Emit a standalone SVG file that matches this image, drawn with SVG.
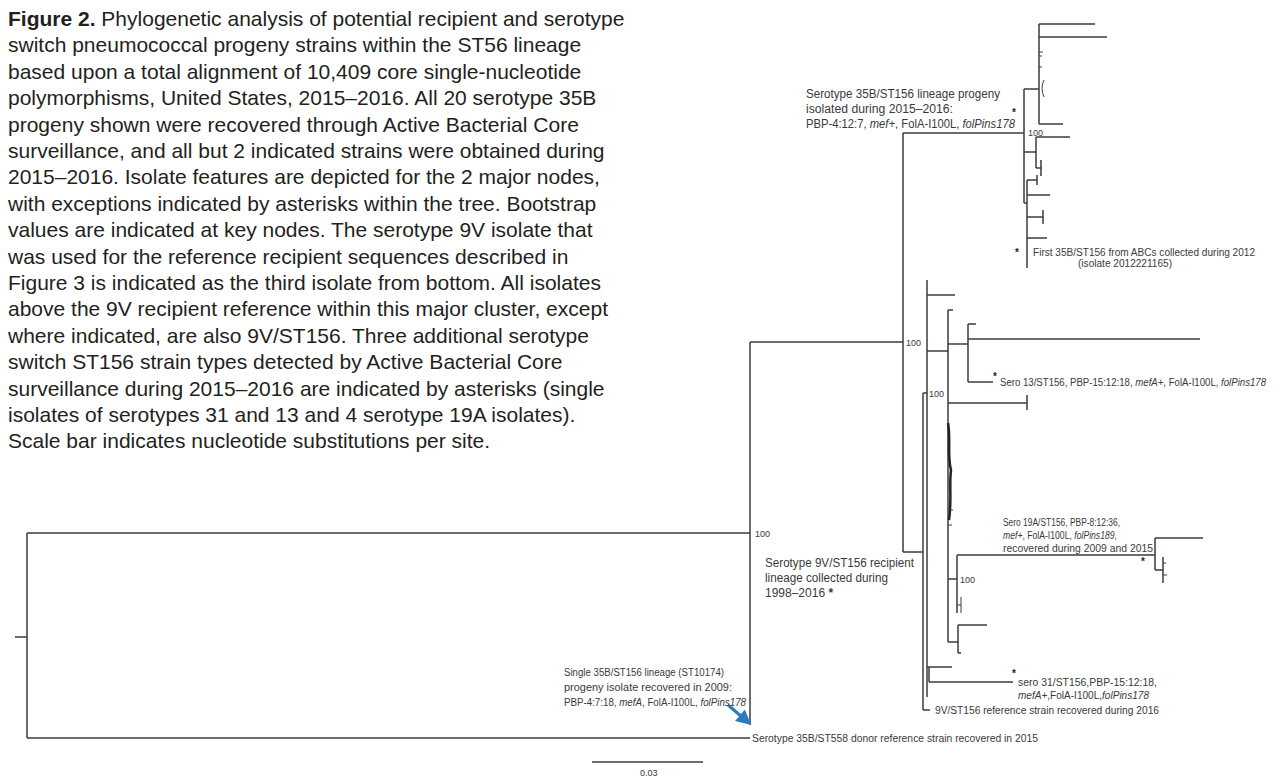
<svg xmlns="http://www.w3.org/2000/svg" width="1282" height="778" viewBox="0 0 1282 778">
<style>
.cap{font-family:"Liberation Sans",Arial,sans-serif;font-size:21px;fill:#231f20}
.lb{font-family:"Liberation Sans",Arial,sans-serif;font-size:10px;fill:#3a3a3a}
.lbb{font-family:"Liberation Sans",Arial,sans-serif;font-size:12px;fill:#3a3a3a}
.bs{font-family:"Liberation Sans",Arial,sans-serif;font-size:9px;fill:#3a3a3a}
.ast{font-family:"Liberation Sans",Arial,sans-serif;font-size:10px;font-weight:bold;fill:#222}
.it{font-style:italic}
.br{fill:none;stroke:#3c3c3c;stroke-width:1.5}
.thin{fill:none;stroke:#3c3c3c;stroke-width:1}
</style>
<defs>
<marker id="ah" viewBox="0 0 10 10" refX="8" refY="5" markerWidth="5" markerHeight="5" orient="auto">
<path d="M0,0 L10,5 L0,10 z" fill="#2b7bbf"/>
</marker>
</defs>
<rect width="1282" height="778" fill="#ffffff"/>
<g id="caption">
<text class="cap" x="8" y="26"><tspan font-weight="bold">Figure 2.</tspan> Phylogenetic analysis of potential recipient and serotype</text>
<text class="cap" x="8" y="52.4">switch pneumococcal progeny strains within the ST56 lineage</text>
<text class="cap" x="8" y="78.8">based upon a total alignment of 10,409 core single-nucleotide</text>
<text class="cap" x="8" y="105.2">polymorphisms, United States, 2015–2016. All 20 serotype 35B</text>
<text class="cap" x="8" y="131.6">progeny shown were recovered through Active Bacterial Core</text>
<text class="cap" x="8" y="158">surveillance, and all but 2 indicated strains were obtained during</text>
<text class="cap" x="8" y="184.4">2015–2016. Isolate features are depicted for the 2 major nodes,</text>
<text class="cap" x="8" y="210.8">with exceptions indicated by asterisks within the tree. Bootstrap</text>
<text class="cap" x="8" y="237.2">values are indicated at key nodes. The serotype 9V isolate that</text>
<text class="cap" x="8" y="263.6">was used for the reference recipient sequences described in</text>
<text class="cap" x="8" y="290">Figure 3 is indicated as the third isolate from bottom. All isolates</text>
<text class="cap" x="8" y="316.4">above the 9V recipient reference within this major cluster, except</text>
<text class="cap" x="8" y="342.8">where indicated, are also 9V/ST156. Three additional serotype</text>
<text class="cap" x="8" y="369.2">switch ST156 strain types detected by Active Bacterial Core</text>
<text class="cap" x="8" y="395.6">surveillance during 2015–2016 are indicated by asterisks (single</text>
<text class="cap" x="8" y="422">isolates of serotypes 31 and 13 and 4 serotype 19A isolates).</text>
<text class="cap" x="8" y="448.4">Scale bar indicates nucleotide substitutions per site.</text>
</g>
<g id="connectors">
<path class="br" d="M15,637 H27 M27,533 V738 M27,533 H750 M27,738 H750"/>
<path class="br" d="M750,342 V725 M750,342 H903 M903,133 V552 M903,133 H1024 M903,552 H923"/>
<path class="br" d="M1024,89 V203 M1024,89 H1039 M1039,24 V124 M1039,24 H1095 M1039,37 H1107 M1039,124 H1063"/>
<path class="thin" d="M1039,52 H1043 M1039,56 H1042 M1039,67 H1042 M1044,80 Q1040,88 1044,97"/>
<path class="br" d="M1024,152 H1036 M1036,137 V168 M1036,137 H1070 M1036,168 H1041 M1041,160 V176"/>
<path class="br" d="M1024,203 H1027 M1027,180 V268 M1027,180 H1037 M1037,175 V185 M1027,195 H1050 M1027,217 H1043 M1043,210 V224 M1027,238 H1047"/>
<path class="br" d="M923,393 V710 M923,710 H930 M923,393 H927 M927,280 V697"/>
<path class="br" d="M927,295 H955 M927,351 H948 M948,310 V642 M948,310 H953 M948,344 H968 M968,324 V382 M968,324 H976 M968,339 H1200 M968,382 H993"/>
<path class="br" d="M948,403 H1027 M1027,395 V410"/>
<path d="M948,423 C951,440 947,455 951,470 C949,485 952,500 949,520" fill="none" stroke="#222" stroke-width="2.5"/>
<path class="thin" d="M948,510 H953 M948,525 H952 M948,480 H951"/>
<path class="br" d="M948,579 H957 M957,555 V613 M957,555 H1155 M1155,538 V570 M1155,538 H1203 M1155,570 H1163 M1163,557 V583"/>
<path class="thin" d="M1163,563 H1166 M1163,575 H1167 M957,605 H961 M961,597 V613"/>
<path class="br" d="M948,642 H958 M958,625 V653 M958,625 H987 M958,653 H961"/>
<path class="br" d="M927,667 H929 M929,667 V682 M929,667 H952 M929,682 H1013"/>
<line x1="728" y1="705" x2="749" y2="723" stroke="#2b7bbf" stroke-width="3" marker-end="url(#ah)"/>
<path class="br" d="M592,762 H703"/>
</g>
<g id="label-35b-progeny">
<text class="lbb" x="806" y="98" textLength="194" lengthAdjust="spacingAndGlyphs">Serotype 35B/ST156 lineage progeny</text>
<text class="lbb" x="806" y="113" textLength="147" lengthAdjust="spacingAndGlyphs">isolated during 2015–2016:</text>
<text class="lbb" x="806" y="128" textLength="209" lengthAdjust="spacingAndGlyphs">PBP-4:12:7, <tspan class="it">mef+</tspan>, FolA-I100L, <tspan class="it">folPins178</tspan></text>
<text class="ast" x="1012" y="116">*</text>
</g>
<g id="label-first35b">
<text class="ast" x="1015" y="256">*</text>
<text class="lb" x="1033" y="256" textLength="222" lengthAdjust="spacingAndGlyphs">First 35B/ST156 from ABCs collected during 2012</text>
<text class="lb" x="1078" y="267" textLength="94" lengthAdjust="spacingAndGlyphs">(isolate 2012221165)</text>
</g>
<g id="label-sero13">
<text class="ast" x="993" y="380">*</text>
<text class="lb" x="1000" y="386" textLength="266" lengthAdjust="spacingAndGlyphs">Sero 13/ST156, PBP-15:12:18, <tspan class="it">mefA+</tspan>, FolA-I100L, <tspan class="it">folPins178</tspan></text>
</g>
<g id="label-sero19a">
<text class="lb" x="1003" y="526" textLength="117" lengthAdjust="spacingAndGlyphs">Sero 19A/ST156, PBP-8:12:36,</text>
<text class="lb" x="1003" y="539" textLength="114" lengthAdjust="spacingAndGlyphs"><tspan class="it">mef+</tspan>, FolA-I100L, <tspan class="it">folPins189</tspan>,</text>
<text class="lb" x="1003" y="552" textLength="150" lengthAdjust="spacingAndGlyphs">recovered during 2009 and 2015</text>
<text class="ast" x="1141" y="565">*</text>
</g>
<g id="label-9v-recipient">
<text class="lbb" x="765" y="567" textLength="149" lengthAdjust="spacingAndGlyphs">Serotype 9V/ST156 recipient</text>
<text class="lbb" x="765" y="582" textLength="123" lengthAdjust="spacingAndGlyphs">lineage collected during</text>
<text class="lbb" x="765" y="597">1998–2016 <tspan font-weight="bold">*</tspan></text>
</g>
<g id="label-sero31">
<text class="ast" x="1012" y="677">*</text>
<text class="lb" x="1018" y="686" textLength="139" lengthAdjust="spacingAndGlyphs">sero 31/ST156,PBP-15:12:18,</text>
<text class="lb" x="1018" y="699" textLength="131" lengthAdjust="spacingAndGlyphs"><tspan class="it">mefA+</tspan>,FolA-I100L,<tspan class="it">folPins178</tspan></text>
</g>
<g id="label-9v-ref">
<text class="lb" x="935" y="714" textLength="224" lengthAdjust="spacingAndGlyphs">9V/ST156 reference strain recovered during 2016</text>
</g>
<g id="label-single35b">
<text class="lb" x="564" y="676" textLength="160" lengthAdjust="spacingAndGlyphs">Single 35B/ST156 lineage (ST10174)</text>
<text class="lb" x="564" y="691" textLength="168" lengthAdjust="spacingAndGlyphs">progeny isolate recovered in 2009:</text>
<text class="lb" x="564" y="706" textLength="182" lengthAdjust="spacingAndGlyphs">PBP-4:7:18, <tspan class="it">mefA</tspan>, FolA-I100L, <tspan class="it">folPins178</tspan></text>
</g>
<g id="label-donor">
<text class="lb" x="752" y="742" textLength="286" lengthAdjust="spacingAndGlyphs">Serotype 35B/ST558 donor reference strain recovered in 2015</text>
</g>
<g id="bootstrap">
<text class="bs" x="755" y="537">100</text>
<text class="bs" x="906" y="346">100</text>
<text class="bs" x="1028" y="136">100</text>
<text class="bs" x="929" y="397">100</text>
<text class="bs" x="960" y="583">100</text>
</g>
<g id="scale">
<text class="bs" x="640" y="776" font-size="8">0.03</text>
</g>
</svg>
